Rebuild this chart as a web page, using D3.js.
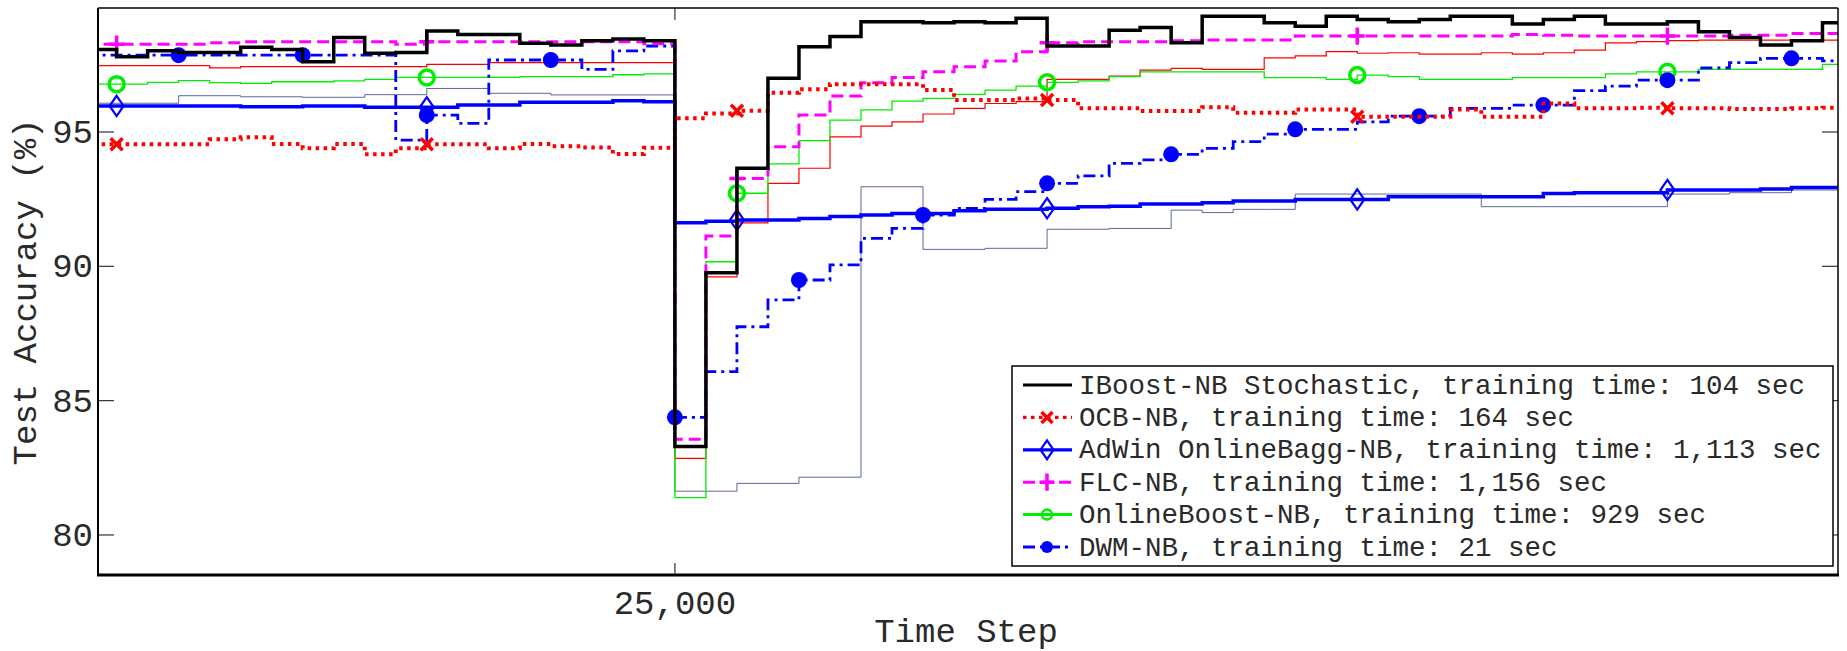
<!DOCTYPE html>
<html>
<head>
<meta charset="utf-8">
<script src="https://cdn.jsdelivr.net/npm/d3@7"></script>
<style>
  body { margin: 0; background: #fff; }
  text { font-family: "Liberation Mono", "DejaVu Sans Mono", monospace; fill: #2a2a2a; }
</style>
</head>
<body>
<div id="chart"></div>
<script>
// sample grid (time steps), one value per step for every curve
var steps = d3.range(6000, 63000, 1000);

var iboost = [98.07, 97.80, 98.02, 97.96, 97.96, 98.15, 98.07, 97.61, 98.52, 97.93,
  97.96, 98.76, 98.63, 98.63, 98.30, 98.24, 98.40, 98.46, 98.40,
  83.29, 89.76, 93.65, 97.00, 98.17, 98.55, 99.10, 99.10, 99.07, 99.10,
  99.07, 99.23, 98.20, 98.20, 98.79, 98.89, 98.32, 99.31, 99.31, 99.07,
  98.94, 99.31, 99.19, 99.10, 99.19, 99.31, 99.31, 99.02, 99.19, 99.31,
  99.02, 99.02, 99.10, 98.73, 98.52, 98.24, 98.40, 99.07];

var ocb = [94.54, 94.54, 94.54, 94.54, 94.73, 94.80, 94.55, 94.39, 94.55, 94.17,
  94.39, 94.54, 94.54, 94.39, 94.55, 94.47, 94.42, 94.18, 94.41,
  95.51, 95.69, 95.79, 96.46, 96.59, 96.78, 96.78, 96.78, 96.56, 96.19,
  96.19, 96.25, 96.19, 95.88, 95.88, 95.78, 95.78, 95.92, 95.72, 95.72,
  95.84, 95.84, 95.57, 95.57, 95.57, 95.84, 95.57, 95.57, 96.06, 95.88,
  95.88, 95.90, 95.88, 95.88, 95.86, 95.86, 95.88, 95.90];

var adwin = [95.97, 95.97, 95.97, 95.97, 95.97, 95.94, 95.94, 95.97, 95.97, 95.92,
  95.92, 95.92, 96.00, 96.00, 96.11, 96.11, 96.11, 96.16, 96.13,
  91.62, 91.68, 91.72, 91.72, 91.78, 91.85, 91.91, 91.97, 91.97, 92.07,
  92.12, 92.12, 92.16, 92.22, 92.24, 92.32, 92.32, 92.37, 92.43, 92.43,
  92.49, 92.49, 92.49, 92.59, 92.59, 92.59, 92.59, 92.59, 92.71, 92.74,
  92.74, 92.74, 92.84, 92.84, 92.84, 92.88, 92.93, 92.93];

var flc = [98.27, 98.27, 98.27, 98.27, 98.32, 98.36, 98.36, 98.36, 98.36, 98.36,
  98.27, 98.36, 98.36, 98.36, 98.36, 98.36, 98.36, 98.36, 98.28,
  83.56, 91.13, 93.27, 94.45, 95.63, 96.34, 96.83, 97.03, 97.24, 97.43,
  97.64, 97.99, 98.32, 98.36, 98.36, 98.36, 98.40, 98.42, 98.42, 98.42,
  98.57, 98.57, 98.57, 98.57, 98.57, 98.57, 98.57, 98.63, 98.60, 98.57,
  98.57, 98.57, 98.57, 98.57, 98.60, 98.60, 98.67, 98.67];

var onlineBoost = [96.78, 96.78, 96.85, 96.91, 96.84, 96.81, 96.87, 96.87, 96.90, 96.96,
  97.03, 97.03, 97.03, 97.03, 97.06, 97.06, 97.06, 97.13, 97.16,
  81.39, 90.17, 92.72, 93.81, 94.68, 95.44, 95.82, 96.15, 96.25, 96.40,
  96.56, 96.71, 96.85, 96.90, 97.06, 97.24, 97.24, 97.24, 97.24, 97.02,
  97.02, 96.96, 97.12, 97.06, 96.96, 96.96, 96.96, 97.02, 97.02, 97.02,
  97.16, 97.24, 97.24, 97.33, 97.33, 97.33, 97.33, 97.52];

var dwm = [97.86, 97.86, 97.86, 97.86, 97.86, 97.86, 97.86, 97.86, 97.86, 97.86,
  94.70, 95.63, 95.32, 97.68, 97.68, 97.68, 97.33, 98.02, 98.20,
  84.38, 86.08, 87.75, 88.75, 89.49, 90.05, 91.04, 91.41, 91.91, 92.16,
  92.49, 92.78, 93.09, 93.37, 93.83, 93.96, 94.17, 94.39, 94.64, 94.92,
  95.10, 95.10, 95.38, 95.59, 95.59, 95.88, 95.88, 96.00, 96.00, 96.54,
  96.71, 96.93, 96.93, 97.39, 97.58, 97.74, 97.74, 97.65];

// two thin curves that have no legend entry
var thinRed = [97.47, 97.47, 97.47, 97.47, 97.39, 97.43, 97.43, 97.43, 97.43, 97.43,
  97.43, 97.52, 97.52, 97.58, 97.58, 97.58, 97.58, 97.58, 97.58,
  82.85, 89.61, 91.62, 93.09, 93.65, 94.82, 95.22, 95.38, 95.67, 95.88,
  96.06, 96.13, 96.96, 96.96, 97.08, 97.30, 97.37, 97.33, 97.33, 97.76,
  97.83, 97.99, 97.93, 97.95, 97.90, 97.90, 97.95, 97.90, 97.95, 98.05,
  98.32, 98.36, 98.40, 98.42, 98.42, 98.42, 98.42, 98.42];

var thinSlate = [96.07, 96.07, 96.07, 96.35, 96.35, 96.31, 96.31, 96.29, 96.29, 96.39,
  96.39, 96.62, 96.62, 96.44, 96.44, 96.38, 96.38, 96.38, 96.38,
  81.63, 81.63, 81.92, 81.92, 82.15, 82.15, 92.96, 92.96, 90.63, 90.63,
  90.67, 90.67, 91.38, 91.38, 91.41, 91.41, 92.09, 92.00, 92.12, 92.12,
  92.69, 92.69, 92.69, 92.69, 92.69, 92.69, 92.22, 92.22, 92.22, 92.22,
  92.22, 92.22, 92.69, 92.69, 92.74, 92.74, 92.84, 92.84];

var yTicks = [80, 85, 90, 95];
var xTicks = [25000];
var xTickLabels = ['25,000'];

/* setup */
var W = 1847, H = 651;
var pLeft = 98, pRight = 1838, pTop = 8, pBottom = 575;

var x = d3.scaleLinear().domain([6400, 62500]).range([pLeft, pRight]);
var y = d3.scaleLinear().domain([78.51, 99.615]).range([pBottom, pTop]);

var svg = d3.select('#chart').append('svg')
    .attr('width', W)
    .attr('height', H);

svg.append('clipPath').attr('id', 'plotclip')
  .append('rect')
    .attr('x', pLeft).attr('y', pTop)
    .attr('width', pRight - pLeft).attr('height', pBottom - pTop);

var line = d3.line()
    .x(function (d) { return x(d[0]); })
    .y(function (d) { return y(d[1]); })
    .curve(d3.curveStepAfter);

function markerPath(type, s) {
  if (type === 'x') return 'M' + -s + ',' + -s + 'L' + s + ',' + s + 'M' + -s + ',' + s + 'L' + s + ',' + -s;
  if (type === '+') return 'M' + -s + ',0H' + s + 'M0,' + (-s * 1.15) + 'V' + (s * 1.15);
  if (type === 'diamond') return 'M0,' + (-s * 1.45) + 'L' + s + ',0L0,' + (s * 1.45) + 'L' + -s + ',0Z';
  return null;
}

function drawMarker(g, type, cx, cy, color, s) {
  if (type === 'o') {
    g.append('circle').attr('cx', cx).attr('cy', cy).attr('r', s)
      .attr('fill', 'none').attr('stroke', color).attr('stroke-width', s > 6 ? 3.5 : 2.5);
  } else if (type === 'dot') {
    g.append('circle').attr('cx', cx).attr('cy', cy).attr('r', s).attr('fill', color);
  } else {
    g.append('path').attr('d', markerPath(type, s))
      .attr('transform', 'translate(' + cx + ',' + cy + ')')
      .attr('fill', 'none').attr('stroke', color)
      .attr('stroke-width', type === 'diamond' ? 2.2 : 3.5);
  }
}

// drawing order: thin curves first, black on top
var series = [
  { values: thinSlate, color: '#33427f', width: 1, opacity: 0.8 },
  { values: thinRed, color: '#ff0000', width: 1.2 },
  { name: 'OnlineBoost-NB, training time: 929 sec', values: onlineBoost, color: '#00ee00', width: 1.3,
    marker: 'o', mSize: 7.5, every: 10, first: 1, legendWidth: 3, legendSize: 5 },
  { name: 'DWM-NB, training time: 21 sec', values: dwm, color: '#0000ff', width: 2.8, dash: '12,5,3,5',
    marker: 'dot', mSize: 8, every: 4, first: 3, legendSize: 6 },
  { name: 'AdWin OnlineBagg-NB, training time: 1,113 sec', values: adwin, color: '#0000ff', width: 3.5,
    marker: 'diamond', mSize: 7, every: 10, first: 1, legendSize: 6.5 },
  { name: 'FLC-NB, training time: 1,156 sec', values: flc, color: '#ff00ff', width: 3, dash: '12,6',
    marker: '+', mSize: 7.5, every: 10, first: 1, legendSize: 7.5 },
  { name: 'OCB-NB, training time: 164 sec', values: ocb, color: '#ff0000', width: 4, dash: '3.5,4.5',
    marker: 'x', mSize: 6, every: 10, first: 1, legendSize: 5.5 },
  { name: 'IBoost-NB Stochastic, training time: 104 sec', values: iboost, color: '#000000', width: 3.5 }
];

var plot = svg.append('g').attr('clip-path', 'url(#plotclip)');

series.forEach(function (s) {
  var pts = steps.map(function (t, i) { return [t, s.values[i]]; });
  // carry the last level to the right edge, like the original stairs
  pts.push([x.domain()[1], s.values[s.values.length - 1]]);
  plot.append('path')
      .datum(pts)
      .attr('d', line)
      .attr('fill', 'none')
      .attr('stroke', s.color)
      .attr('stroke-width', s.width)
      .attr('stroke-opacity', s.opacity || 1)
      .attr('stroke-dasharray', s.dash || null);
  if (s.marker) {
    steps.forEach(function (t, i) {
      if (i >= s.first && (i - s.first) % s.every === 0) {
        drawMarker(plot, s.marker, x(t), y(s.values[i]), s.color, s.mSize);
      }
    });
  }
});

/* axes box and ticks */
var tickLen = 16;
var axes = svg.append('g');

yTicks.forEach(function (v) {
  axes.append('line').attr('x1', pLeft).attr('x2', pLeft + tickLen)
    .attr('y1', y(v)).attr('y2', y(v)).attr('stroke', '#333').attr('stroke-width', 1.2);
  axes.append('line').attr('x1', pRight - tickLen).attr('x2', pRight)
    .attr('y1', y(v)).attr('y2', y(v)).attr('stroke', '#333').attr('stroke-width', 1.2);
  axes.append('text').attr('x', pLeft - 5).attr('y', y(v) + 11)
    .attr('text-anchor', 'end').style('font-size', '34px').text(v);
});

xTicks.forEach(function (v, i) {
  axes.append('line').attr('x1', x(v)).attr('x2', x(v))
    .attr('y1', pBottom).attr('y2', pBottom - 12).attr('stroke', '#333').attr('stroke-width', 1.2);
  axes.append('line').attr('x1', x(v)).attr('x2', x(v))
    .attr('y1', pTop).attr('y2', pTop + 12).attr('stroke', '#333').attr('stroke-width', 1.2);
  axes.append('text').attr('x', x(v)).attr('y', 614)
    .attr('text-anchor', 'middle').style('font-size', '34px').text(xTickLabels[i]);
});

axes.append('line').attr('x1', pLeft).attr('x2', pRight).attr('y1', pTop).attr('y2', pTop)
  .attr('stroke', '#000').attr('stroke-width', 1.5);
axes.append('line').attr('x1', pRight).attr('x2', pRight).attr('y1', pTop).attr('y2', pBottom)
  .attr('stroke', '#000').attr('stroke-width', 1.5);
axes.append('line').attr('x1', pLeft).attr('x2', pLeft).attr('y1', pTop).attr('y2', pBottom)
  .attr('stroke', '#000').attr('stroke-width', 2);
axes.append('line').attr('x1', pLeft - 1).attr('x2', pRight + 1).attr('y1', pBottom).attr('y2', pBottom)
  .attr('stroke', '#000').attr('stroke-width', 3);

svg.append('text').attr('x', 966).attr('y', 642)
  .attr('text-anchor', 'middle').style('font-size', '34px').text('Time Step');

svg.append('text')
  .attr('transform', 'translate(36,292) rotate(-90)')
  .attr('text-anchor', 'middle').style('font-size', '34px').text('Test Accuracy (%)');

/* legend */
var legendOrder = [7, 6, 4, 5, 2, 3];
var lg = svg.append('g');
lg.append('rect').attr('x', 1012).attr('y', 366).attr('width', 821).attr('height', 200)
  .attr('fill', '#fff').attr('stroke', '#000').attr('stroke-width', 1.5);

legendOrder.forEach(function (k, i) {
  var s = series[k];
  var ly = 385 + i * 32.4;
  lg.append('line').attr('x1', 1023).attr('x2', 1072).attr('y1', ly).attr('y2', ly)
    .attr('stroke', s.color).attr('stroke-width', s.legendWidth || Math.min(s.width, 3.2))
    .attr('stroke-dasharray', s.dash || null);
  if (s.marker) drawMarker(lg, s.marker, 1047, ly, s.color, s.legendSize);
  lg.append('text').attr('x', 1079).attr('y', ly + 8.5)
    .style('font-size', '27.5px').text(s.name);
});
</script>
</body>
</html>
